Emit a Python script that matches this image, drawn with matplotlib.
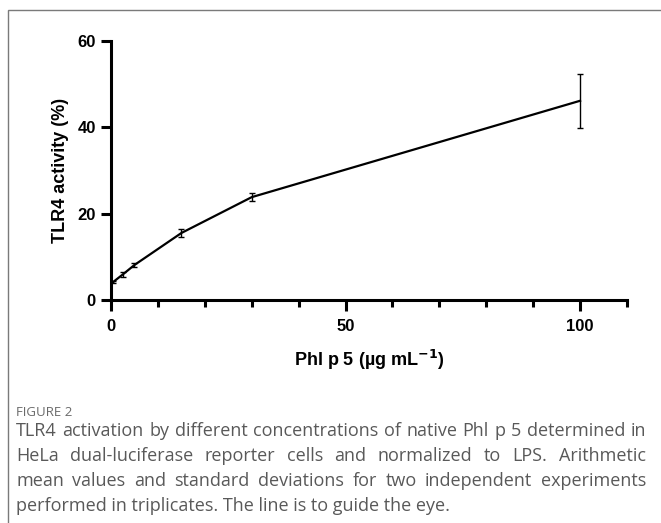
import matplotlib
matplotlib.use("Agg")
import matplotlib.pyplot as plt
from matplotlib.patches import Rectangle
from matplotlib.ticker import MultipleLocator

# Phl p 5 concentration vs TLR4 activity (mean, sd)
conc = [0.5, 2.5, 5, 15, 30, 100]
activity = [4.2, 5.9, 8.1, 15.5, 23.8, 46.1]
sd = [0.3, 0.6, 0.4, 1.0, 1.0, 6.3]

caption_title = "FIGURE 2"
caption_lines = [
    "TLR4 activation by different concentrations of native Phl p 5 determined in",
    "HeLa dual-luciferase reporter cells and normalized to LPS. Arithmetic",
    "mean values and standard deviations for two independent experiments",
    "performed in triplicates. The line is to guide the eye.",
]

W, H = 661, 523
fig = plt.figure(figsize=(W / 100, H / 100), dpi=100)

# gray frame around the figure panel (runs off right/bottom edge)
fig.patches.append(Rectangle((8 / W, -0.05), 1.1, 1.05 - 10 / H,
                             transform=fig.transFigure, fill=False,
                             edgecolor="#7a7a7a", lw=1.0))

ax = fig.add_axes([111 / W, 1 - 300 / H, (627 - 111) / W, (300 - 40.7) / H])

ax.errorbar(conc, activity, yerr=sd, color="black", lw=1.6,
            ecolor="black", elinewidth=1.0, capsize=2.2, capthick=1.0)

ax.set_xlim(0, 110)
ax.set_ylim(0, 60)
ax.xaxis.set_major_locator(MultipleLocator(50))
ax.xaxis.set_minor_locator(MultipleLocator(10))
ax.yaxis.set_major_locator(MultipleLocator(20))

for s in ["top", "right"]:
    ax.spines[s].set_visible(False)
for s in ["left", "bottom"]:
    ax.spines[s].set_linewidth(2.2)

ax.tick_params(axis="both", which="major", width=2.2, length=7, pad=4)
ax.tick_params(axis="x", which="minor", width=2.2, length=5)
ax.tick_params(axis="x", which="major", length=8, pad=6)

for lab in ax.get_xticklabels() + ax.get_yticklabels():
    lab.set_family("Liberation Sans")
    lab.set_fontweight("bold")
    lab.set_fontsize(12)

ax.set_xlabel("Phl p 5 (µg mL$^{\\mathbf{-1}}$)", family="Liberation Sans",
              weight="bold", size=13, labelpad=10)
ax.set_ylabel("TLR4 activity (%)", family="Liberation Sans",
              weight="bold", size=13, labelpad=6)

# caption
cap_color = "#595959"
fig.text(16 / W, 1 - 413 / H, caption_title, color="#6a6a6a",
         family="Open Sans", size=9.5, va="center", ha="left")

renderer = fig.canvas.get_renderer()
x_left, x_right = 16, 646

# pick a caption size so the first (full) line fills the frame width
probe = fig.text(0, 0, caption_lines[0], family="Open Sans", size=10)
cap_size = 10 * (x_right - x_left) / probe.get_window_extent(renderer).width * 0.99
probe.remove()

line_y = [431, 456, 481, 506]
for i, line in enumerate(caption_lines):
    y = 1 - line_y[i] / H
    if i == len(caption_lines) - 1:
        fig.text(x_left / W, y, line, color=cap_color, family="Open Sans",
                 size=cap_size, va="center", ha="left")
        continue
    words = line.split(" ")
    texts = [fig.text(0, y, w, color=cap_color, family="Open Sans",
                      size=cap_size, va="center", ha="left") for w in words]
    widths = [t.get_window_extent(renderer).width for t in texts]
    gap = (x_right - x_left - sum(widths)) / (len(words) - 1)
    x = x_left
    for t, w in zip(texts, widths):
        t.set_x(x / W)
        x += w + gap

fig.savefig("out.png", dpi=100)
